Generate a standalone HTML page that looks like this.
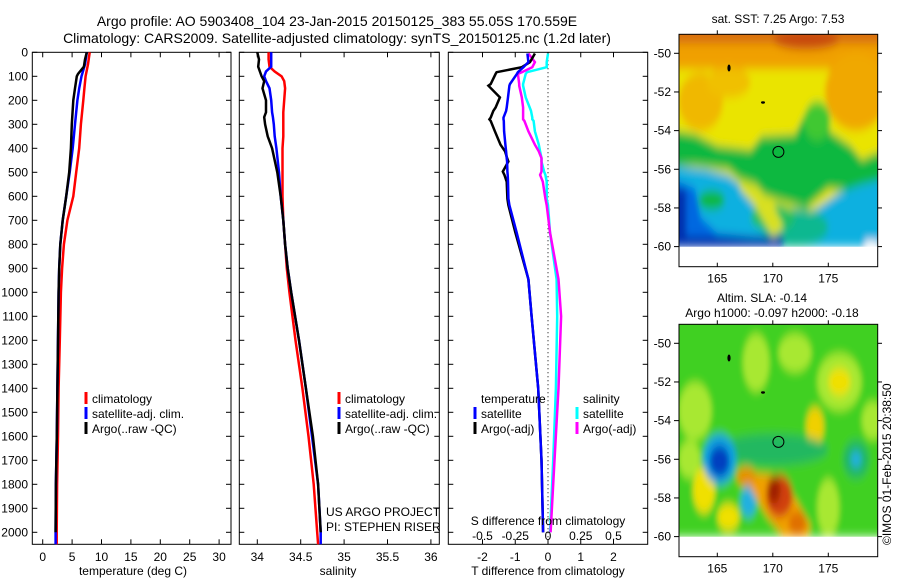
<!DOCTYPE html>
<html><head><meta charset="utf-8">
<style>
body{margin:0;background:#fff;}
svg{display:block;font-family:"Liberation Sans",sans-serif;}
text{fill:#000;}
</style></head>
<body>
<svg id="fig" width="900" height="580" viewBox="0 0 900 580" xmlns="http://www.w3.org/2000/svg">
<defs>
<filter id="bl" x="-20%" y="-20%" width="140%" height="140%"><feGaussianBlur stdDeviation="0.25"/></filter>
<clipPath id="cm1"><rect x="679" y="34.3" width="198.7" height="212.4"/></clipPath>
<clipPath id="cm2"><rect x="679" y="324.3" width="198.7" height="212.4"/></clipPath>
</defs>
<text x="337" y="26" font-size="14" text-anchor="middle">Argo profile: AO 5903408_104 23-Jan-2015 20150125_383 55.05S 170.559E</text>
<text x="337" y="43" font-size="14" text-anchor="middle">Climatology: CARS2009. Satellite-adjusted climatology: synTS_20150125.nc (1.2d later)</text>

<g id="p1"></g>
<g id="p2"></g>
<g id="p3"></g>

<!-- Top map: SST -->
<text x="778" y="23" font-size="12" text-anchor="middle">sat. SST: 7.25 Argo: 7.53</text>
<g clip-path="url(#cm1)">
<g transform="translate(717.3,53.3) scale(11.1,19.33) translate(-165,-50)" filter="url(#bl)">
<rect x="161" y="48.5" width="20" height="11.5" fill="#eae400"/>
<rect x="161" y="48.5" width="20" height="2.3" fill="#f0a000"/>
<ellipse cx="177.5" cy="52" rx="2.8" ry="2" fill="#f0a800"/>
<ellipse cx="163.5" cy="52.5" rx="2" ry="1.5" fill="#f0b800"/>
<ellipse cx="166" cy="51.5" rx="2" ry="0.8" fill="#f0c000"/>
<rect x="161" y="48.5" width="20" height="1" fill="#d87010"/>
<ellipse cx="173" cy="49.3" rx="3" ry="0.5" fill="#c84810"/>
<polygon points="161,54 163,54.2 165,54.8 168,55 169,54.3 172,54.2 173,53 174,52.6 175,54 177,54.8 178,55.5 180,55 180,56.5 179,57.2 175,57 173,58 170,57.5 168,57 166,56 163,55.8 161,55.8" fill="#10b840"/>
<ellipse cx="174" cy="53.5" rx="1.2" ry="1" fill="#40c830"/>
<polygon points="161,55.8 164,56 166,56.3 168,57.2 169,58.2 171,58.5 174,58 176,57.2 178,56.8 180,56.5 180,60 161,60" fill="#10b0e0"/>
<ellipse cx="172" cy="59" rx="3" ry="1" fill="#10b890"/>
<ellipse cx="170" cy="58.5" rx="2" ry="0.7" fill="#20c060"/>
<polygon points="167,56.5 168.5,56.8 170,57.8 171,59 170,59.5 168.5,58 167,57" fill="#d8e020"/>
<ellipse cx="164.5" cy="57.6" rx="1.2" ry="0.5" fill="#10b840"/>
<polygon points="161,56.5 163,57 163.5,58.5 165,59.3 168,59.5 170,59.7 170,60 161,60" fill="#0068e0"/>
<rect x="161" y="59.5" width="10" height="0.5" fill="#0028a8"/>
<rect x="161" y="57" width="1.2" height="3" fill="#0030b0"/>
<rect x="178.3" y="59.7" width="1.2" height="0.4" fill="#fff"/>
</g>
</g>
<rect x="679" y="34.3" width="198.7" height="232.4" fill="none" stroke="#000"/>
<circle cx="778.4" cy="151.9" r="5.5" fill="none" stroke="#000"/>
<ellipse cx="729" cy="68" rx="1.6" ry="3.5" fill="#000"/>
<ellipse cx="763" cy="102.5" rx="2" ry="1.2" fill="#000"/>
<g id="m1ax"></g>

<!-- Bottom map: SLA -->
<text x="762" y="302" font-size="12" text-anchor="middle">Altim. SLA: -0.14</text>
<text x="772" y="317" font-size="12" text-anchor="middle">Argo h1000: -0.097 h2000: -0.18</text>
<g clip-path="url(#cm2)">
<g transform="translate(717.3,343.3) scale(11.1,19.33) translate(-165,-50)" filter="url(#bl)">
<rect x="161" y="48.5" width="20" height="11.5" fill="#40d020"/>
<ellipse cx="163" cy="53.5" rx="1.5" ry="1.5" fill="#a8e830"/>
<ellipse cx="176" cy="52" rx="2" ry="1.5" fill="#a8e830"/>
<ellipse cx="179" cy="54" rx="1" ry="1" fill="#a8e830"/>
<ellipse cx="168.5" cy="51" rx="1.2" ry="1.5" fill="#a8e830"/>
<ellipse cx="172" cy="50.5" rx="1.5" ry="1" fill="#a8e830"/>
<ellipse cx="162.5" cy="56" rx="1" ry="1" fill="#a8e830"/>
<ellipse cx="175" cy="58.5" rx="1" ry="1.5" fill="#a8e830"/>
<ellipse cx="176" cy="52" rx="1" ry="0.7" fill="#f0e000"/>
<ellipse cx="173.8" cy="54.3" rx="0.8" ry="1" fill="#f0d000"/>
<ellipse cx="163.8" cy="57.6" rx="1" ry="1.2" fill="#f0e000"/>
<ellipse cx="166" cy="59" rx="1" ry="0.7" fill="#f0e000"/>
<ellipse cx="170" cy="55.5" rx="5" ry="0.8" fill="#20b860"/>
<ellipse cx="177.5" cy="56" rx="1.2" ry="1" fill="#20b860"/>
<ellipse cx="165.2" cy="56" rx="1.5" ry="1.3" fill="#10a0e0"/>
<ellipse cx="165.2" cy="56.1" rx="0.9" ry="0.8" fill="#0040c0"/>
<ellipse cx="167.8" cy="58.2" rx="0.7" ry="0.8" fill="#20b0e0"/>
<ellipse cx="177.5" cy="56" rx="0.5" ry="0.4" fill="#20b0e0"/>
<polygon points="168,56.7 170,56.8 172,58 173.5,59.5 173,60 171,60 169.5,59 168,57.5" fill="#f0a000"/>
<ellipse cx="167.6" cy="56.9" rx="0.9" ry="0.5" fill="#e89000"/>
<ellipse cx="170.6" cy="57.9" rx="1.2" ry="1.1" fill="#d04010"/>
<ellipse cx="170.1" cy="57.6" rx="0.6" ry="0.7" fill="#a02000"/>
<ellipse cx="172.2" cy="59.3" rx="0.8" ry="0.6" fill="#e07000"/>
</g>
</g>
<rect x="679" y="324.3" width="198.7" height="232.4" fill="none" stroke="#000"/>
<circle cx="778.4" cy="441.9" r="5.5" fill="none" stroke="#000"/>
<ellipse cx="729" cy="358" rx="1.6" ry="3.5" fill="#000"/>
<ellipse cx="763" cy="392.5" rx="2" ry="1.2" fill="#000"/>
<g id="m2ax"></g>
<text transform="translate(891,545) rotate(-90)" font-size="12">©IMOS 01-Feb-2015 20:38:50</text>
</svg>
<script>
// ---- data ----
const depthT=[0,50,100,150,200,300,400,500,600,700,800,900,1000,1200,1400,1600,1800,2000,2050];
const tClim=[8.0,7.7,7.3,7.1,6.9,6.5,6.2,5.7,5.2,4.2,3.6,3.3,3.1,2.9,2.7,2.6,2.45,2.38,2.38];
const tSat=[7.5,7.2,6.6,6.2,5.9,5.5,5.1,4.6,4.0,3.4,3.0,2.8,2.7,2.6,2.5,2.4,2.25,2.2,2.2];
const depthTArgo=[0,30,60,90,100,150,200,300,400,500,600,700,800,900,1000,1200,1400,1600,1800,2000];
const tArgo=[7.5,7.2,7.0,6.0,5.8,5.5,5.2,4.95,4.8,4.5,4.0,3.4,3.0,2.8,2.7,2.6,2.5,2.4,2.25,2.2];

const depthS=[0,30,60,80,100,120,150,200,250,270,300,350,400,500,600,700,800,900,1000,1200,1400,1600,1800,2000,2050];
const sClim=[34.13,34.13,34.14,34.2,34.28,34.31,34.32,34.31,34.30,34.30,34.30,34.30,34.29,34.29,34.29,34.30,34.32,34.34,34.37,34.44,34.52,34.59,34.65,34.69,34.70];
const sSat=[34.16,34.16,34.16,34.10,34.08,34.10,34.14,34.16,34.17,34.18,34.19,34.20,34.22,34.25,34.27,34.30,34.32,34.35,34.39,34.48,34.56,34.63,34.70,34.73,34.73];
const sArgo=[34.0,34.02,34.01,34.03,34.05,34.08,34.06,34.10,34.10,34.08,34.09,34.12,34.17,34.23,34.27,34.30,34.32,34.35,34.39,34.48,34.56,34.64,34.70,34.73];

const depthD=[5,41,62,83,90,132,139,188,230,244,272,279,286,329,385,413,441,455,497,511,539,610,637,750,946,1100,1400,1700,2000];
const dTArgo=[-0.4,-0.55,-0.8,-1.57,-1.6,-1.75,-1.82,-1.47,-1.6,-1.67,-1.75,-1.79,-1.75,-1.62,-1.45,-1.31,-1.25,-1.21,-1.38,-1.33,-1.26,-1.24,-1.21,-1.0,-0.6,-0.5,-0.3,-0.2,-0.15];
const dTSat=[-0.63,-0.6,-0.75,-0.92,-0.95,-1.16,-1.18,-1.22,-1.26,-1.28,-1.36,-1.36,-1.35,-1.34,-1.3,-1.28,-1.26,-1.25,-1.24,-1.23,-1.22,-1.21,-1.18,-0.96,-0.6,-0.5,-0.3,-0.2,-0.15];
const dSSat=[0.0,-0.01,-0.01,-0.16,-0.17,-0.19,-0.19,-0.17,-0.14,-0.13,-0.12,-0.12,-0.11,-0.10,-0.07,-0.06,-0.05,-0.05,-0.03,-0.02,-0.01,-0.01,0.0,0.015,0.066,0.07,0.06,0.04,0.015];
const dSArgo=[-0.15,-0.1,-0.12,-0.2,-0.23,-0.22,-0.22,-0.2,-0.19,-0.19,-0.19,-0.19,-0.18,-0.15,-0.1,-0.07,-0.05,-0.05,-0.05,-0.06,-0.04,-0.02,-0.01,0.015,0.08,0.1,0.08,0.05,0.02];

const depthTicks=[0,100,200,300,400,500,600,700,800,900,1000,1100,1200,1300,1400,1500,1600,1700,1800,1900,2000];
const tTicks=[0,5,10,15,20,25,30];
const sTicks=[34,34.5,35,35.5,36];
const sTickLabels=["34","34.5","35","35.5","36"];
const dTTicks=[-2,-1,0,1,2];
const dSTicks=[-0.5,-0.25,0,0.25,0.5];
const latTicks=[-50,-52,-54,-56,-58,-60];
const lonTicks=[165,170,175];

// ---- scales ----
const TOP=52.3, BOT=544.3;
function yD(d){return TOP+d*0.24;}
function xT(t){return 42.7+5.88*t;}
function xS(s){return 257.3+86.8*(s-34);}
function xDT(v){return 548+32.75*v;}
function xDS(v){return 548+131*v;}
function lonX(l){return 717.3+(l-165)*11.1;}
function latY(off,l){return off+(-50-l)*19.33;}

const NS="http://www.w3.org/2000/svg";
function mk(parent,tag,attrs){const e=document.createElementNS(NS,tag);for(const k in attrs)e.setAttribute(k,attrs[k]);parent.appendChild(e);return e;}
function txt(parent,x,y,s,size,anchor){const e=mk(parent,'text',{x:x,y:y,'font-size':size,'text-anchor':anchor||'start'});e.textContent=s;return e;}

function panel(g,x0,x1,name){
  const r=mk(g,'rect',{x:x0,y:TOP,width:x1-x0,height:BOT-TOP,fill:'none',stroke:'#000','stroke-width':1});
  
  
}
function line(g,xs,ds,fx,color,name,w){
  const pts=xs.map((v,i)=>fx(v).toFixed(1)+','+yD(ds[i]).toFixed(1)).join(' ');
  const p=mk(g,'polyline',{points:pts,fill:'none',stroke:color,'stroke-width':w||2.5,'stroke-linejoin':'miter'});
  
  
}
function xticks(g,vals,labels,fx){
  vals.forEach((v,i)=>{
    const x=fx(v);
    mk(g,'line',{x1:x,x2:x,y1:TOP,y2:TOP+5,stroke:'#000'});
    mk(g,'line',{x1:x,x2:x,y1:BOT,y2:BOT-5,stroke:'#000'});
    if(labels){const t=txt(g,x,561,labels[i],12,'middle');
      
      }
  });
}
function yticks(g,x0,x1,labels){
  depthTicks.forEach(d=>{
    const y=yD(d);
    mk(g,'line',{x1:x0,x2:x0+5,y1:y,y2:y,stroke:'#000'});
    mk(g,'line',{x1:x1,x2:x1-5,y1:y,y2:y,stroke:'#000'});
    if(labels){const t=txt(g,28,y+4,String(d),12,'end');
      
      }
  });
}
function legendEntry(g,x,y,color,label){
  mk(g,'line',{x1:x,x2:x,y1:y-11,y2:y+1,stroke:color,'stroke-width':3});
  const t=txt(g,x+6,y,label,12);
  
  
}

// Panel 1
const p1=document.getElementById('p1');
panel(p1,32.3,231,'temperature-axes');
yticks(p1,32.3,231,true);
xticks(p1,tTicks,tTicks.map(String),xT);
line(p1,tClim,depthT,xT,'#ff0000','temperature-climatology-line');
line(p1,tSat,depthT,xT,'#0000ff','temperature-satellite-line');
line(p1,tArgo,depthTArgo,xT,'#000000','temperature-argo-line');
const l1=txt(p1,133,575,'temperature (deg C)',12,'middle');

legendEntry(p1,86,403,'#ff0000','climatology');
legendEntry(p1,86,418,'#0000ff','satellite-adj. clim.');
legendEntry(p1,86,433,'#000000','Argo(..raw -QC)');

// Panel 2
const p2=document.getElementById('p2');
panel(p2,239.3,439.3,'salinity-axes');
yticks(p2,239.3,439.3,false);
xticks(p2,sTicks,sTickLabels,xS);
line(p2,sClim,depthS,xS,'#ff0000','salinity-climatology-line');
line(p2,sSat,depthS,xS,'#0000ff','salinity-satellite-line');
line(p2,sArgo,depthS.slice(0,sArgo.length),xS,'#000000','salinity-argo-line');
const l2=txt(p2,338,575,'salinity',12,'middle');

legendEntry(p2,339,403,'#ff0000','climatology');
legendEntry(p2,339,418,'#0000ff','satellite-adj. clim.');
legendEntry(p2,339,433,'#000000','Argo(..raw -QC)');
const u1=txt(p2,326,516,'US ARGO PROJECT',12);

const u2=txt(p2,326,531,'PI: STEPHEN RISER',12);


// Panel 3
const p3=document.getElementById('p3');
panel(p3,448.3,647.7,'difference-axes');
yticks(p3,448.3,647.7,false);
xticks(p3,dTTicks,dTTicks.map(String),xDT);
const zl=mk(p3,'line',{x1:548,x2:548,y1:TOP,y2:BOT,stroke:'#000','stroke-dasharray':'1,3'});


line(p3,dSSat,depthD,xDS,'#00ffff','salinity-diff-satellite-line');
line(p3,dSArgo,depthD,xDS,'#ff00ff','salinity-diff-argo-line');
line(p3,dTArgo,depthD,xDT,'#000000','temperature-diff-argo-line');
line(p3,dTSat,depthD,xDT,'#0000ff','temperature-diff-satellite-line');
dSTicks.forEach(v=>{const t=txt(p3,xDS(v),540,String(v).replace('-','−').replace('−','-'),12,'middle');
  
  });
const sd=txt(p3,548,525,'S difference from climatology',12,'middle');

const td=txt(p3,548,575,'T difference from climatology',12,'middle');

const lt=txt(p3,481,403,'temperature',12);

const ls=txt(p3,583,403,'salinity',12);

legendEntry(p3,475,418,'#0000ff','satellite');
legendEntry(p3,475,433,'#000000','Argo(-adj)');
legendEntry(p3,577,418,'#00ffff','satellite');
legendEntry(p3,577,433,'#ff00ff','Argo(-adj)');
// right-side outer ticks
depthTicks.forEach(d=>{if(d%400==0||true){}});

// Map axes
function mapAxes(id,off,top,bot){
  const g=document.getElementById(id);
  latTicks.forEach(l=>{
    const y=latY(off,l);
    mk(g,'line',{x1:674,x2:679,y1:y,y2:y,stroke:'#000'});
    mk(g,'line',{x1:877.7,x2:882,y1:y,y2:y,stroke:'#000'});
    const t=txt(g,671,y+4,String(l),12,'end');
    
    
  });
  lonTicks.forEach(l=>{
    const x=lonX(l);
    mk(g,'line',{x1:x,x2:x,y1:top,y2:top-4,stroke:'#000'});
    mk(g,'line',{x1:x,x2:x,y1:bot,y2:bot-4,stroke:'#000'});
    const t=txt(g,x,bot+16,String(l),12,'middle');
    
    
  });
}
mapAxes('m1ax',53.3,34.3,266.7);
mapAxes('m2ax',343.3,324.3,556.7);
</script>
</body></html>
